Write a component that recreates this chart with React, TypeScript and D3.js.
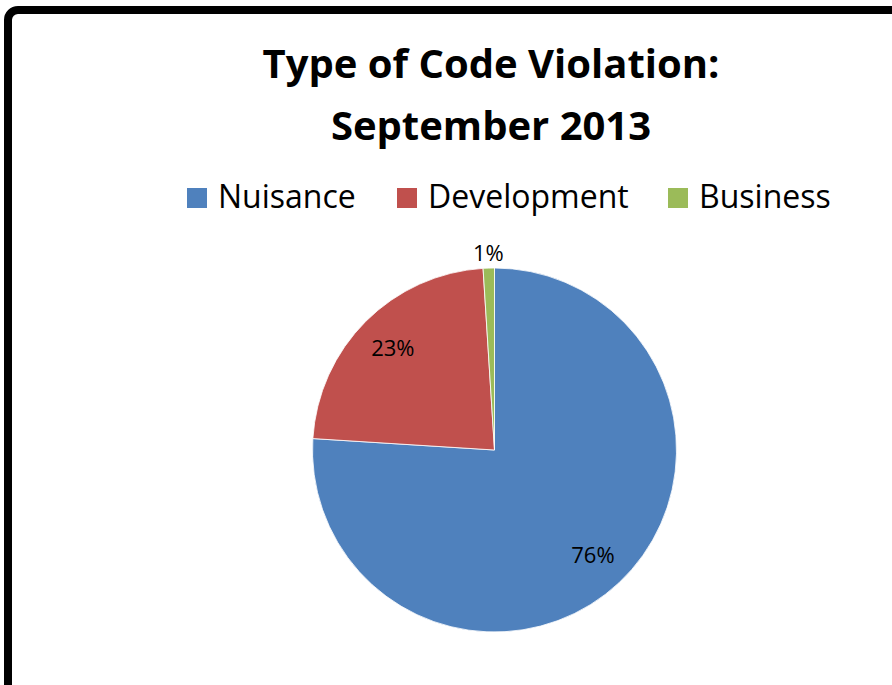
import React from 'react';
import * as d3 from 'd3';

const categories = ['Nuisance', 'Development', 'Business'];
const values = [76, 23, 1];
const colors = ['#4F81BD', '#C0504D', '#9BBB59'];
const titleLines = ['Type of Code Violation:', 'September 2013'];

const width = 892;
const height = 685;
const cx = 494.5;
const cy = 450;
const radius = 182;
const legendX = [187, 397, 668];
const font = '"Open Sans", Lato, sans-serif';

const App = () => {
  const total = d3.sum(values);
  const pie = d3.pie<number>().sort(null).value(d => d);
  const arcs = pie(values);
  const arc = d3.arc<d3.PieArcDatum<number>>().innerRadius(0).outerRadius(radius);

  const labelPos = (a: d3.PieArcDatum<number>) => {
    const mid = (a.startAngle + a.endAngle) / 2;
    // small slices get their label outside the pie
    const r = a.endAngle - a.startAngle < 0.2 ? radius + 15 : radius * 0.79;
    return [Math.sin(mid) * r, -Math.cos(mid) * r];
  };

  return (
    <svg width={width} height={height} style={{ position: 'absolute', left: 0, top: 0 }}>
      <rect x={0} y={0} width={width} height={height} fill="#fff" />
      <rect x={8} y={10} width={920} height={720} rx={10} fill="none" stroke="#000" strokeWidth={8} />

      {titleLines.map((t, i) => (
        <text key={t} x={491} y={78 + i * 62} textAnchor="middle" fontFamily={font}
          fontWeight="bold" fontSize={40} fill="#000">{t}</text>
      ))}

      {categories.map((c, i) => (
        <g key={c} transform={`translate(${legendX[i]},188)`}>
          <rect width={20} height={20} fill={colors[i]} />
          <text x={31} y={20} fontFamily={font} fontSize={32} fill="#000">{c}</text>
        </g>
      ))}

      <g transform={`translate(${cx},${cy})`}>
        {arcs.map((a, i) => (
          <path key={i} d={arc(a) as string} fill={colors[i]} stroke="#fff" strokeWidth={0.8} />
        ))}
        {arcs.map((a, i) => {
          const [x, y] = labelPos(a);
          return (
            <text key={'l' + i} x={x} y={y} dy="0.35em" textAnchor="middle" fontFamily={font}
              fontSize={22} fill="#000">{Math.round((a.data / total) * 100)}%</text>
          );
        })}
      </g>
    </svg>
  );
};

export default App;
